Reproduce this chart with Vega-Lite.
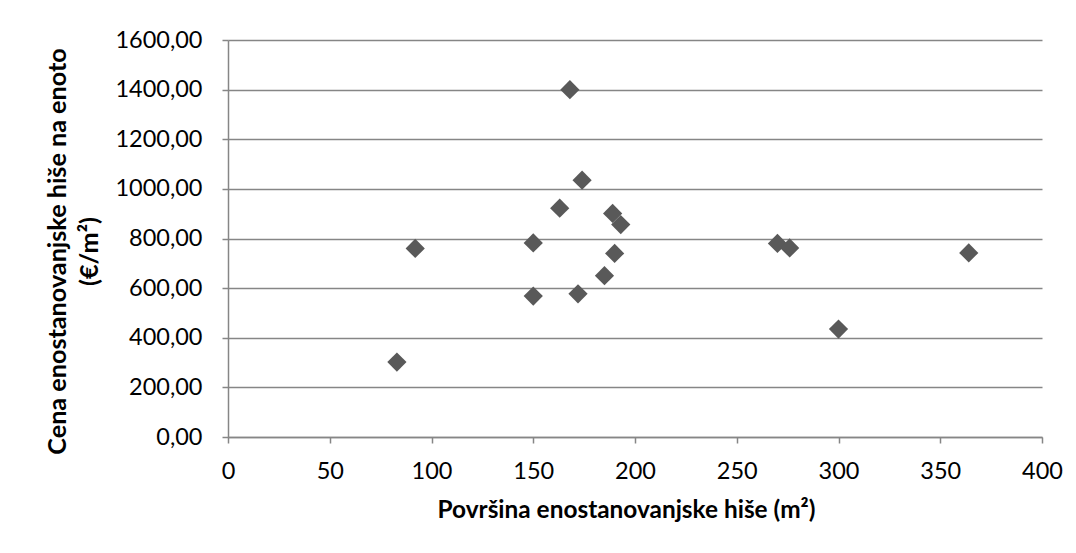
{
  "$schema": "https://vega.github.io/schema/vega-lite/v6.json",
  "width": 814,
  "height": 397,
  "autosize": {"type": "none"},
  "padding": {"left": 228, "top": 40, "right": 34, "bottom": 116},
  "background": "white",
  "config": {
    "view": {"stroke": null},
    "font": "Lato",
    "axis": {
      "labelFont": "Lato",
      "labelFontSize": 23.5,
      "labelColor": "#000000",
      "titleFont": "Lato",
      "titleFontSize": 24.4,
      "titleFontWeight": "bold",
      "titleColor": "#000000",
      "domainColor": "#868686",
      "tickColor": "#868686",
      "gridColor": "#868686",
      "domainWidth": 1.5,
      "tickWidth": 1.5,
      "gridWidth": 1.5
    }
  },
  "data": {
    "values": [
      {"povrsina": 168, "cena": 1400},
      {"povrsina": 174, "cena": 1035},
      {"povrsina": 163, "cena": 922},
      {"povrsina": 189, "cena": 901},
      {"povrsina": 193, "cena": 856},
      {"povrsina": 150, "cena": 782},
      {"povrsina": 190, "cena": 740},
      {"povrsina": 185, "cena": 650},
      {"povrsina": 150, "cena": 568},
      {"povrsina": 172, "cena": 577},
      {"povrsina": 92, "cena": 760},
      {"povrsina": 83, "cena": 302},
      {"povrsina": 270, "cena": 780},
      {"povrsina": 276, "cena": 762},
      {"povrsina": 300, "cena": 435},
      {"povrsina": 364, "cena": 742}
    ]
  },
  "mark": {"type": "point", "shape": "diamond", "filled": true, "color": "#595959", "opacity": 1, "size": 370},
  "encoding": {
    "x": {
      "field": "povrsina",
      "type": "quantitative",
      "scale": {"domain": [0, 400], "nice": false, "zero": true},
      "axis": {
        "values": [0, 50, 100, 150, 200, 250, 300, 350, 400],
        "grid": false,
        "tickSize": 6,
        "labelPadding": 16,
        "labelFlush": false,
        "title": "Površina enostanovanjske hiše (m²)",
        "titlePadding": 16,
        "titleX": 398
      }
    },
    "y": {
      "field": "cena",
      "type": "quantitative",
      "scale": {"domain": [0, 1600], "nice": false},
      "axis": {
        "values": [0, 200, 400, 600, 800, 1000, 1200, 1400, 1600],
        "grid": true,
        "tickSize": 6,
        "labelPadding": 20,
        "labelFlush": false,
        "labelExpr": "replace(format(datum.value, '.2f'), '.', ',')",
        "title": ["Cena enostanovanjske hiše na enoto", "(€/m²)"],
        "titleFontSize": 25.2,
        "titlePadding": 12,
        "titleLineHeight": 32,
        "titleY": 211
      }
    }
  }
}
